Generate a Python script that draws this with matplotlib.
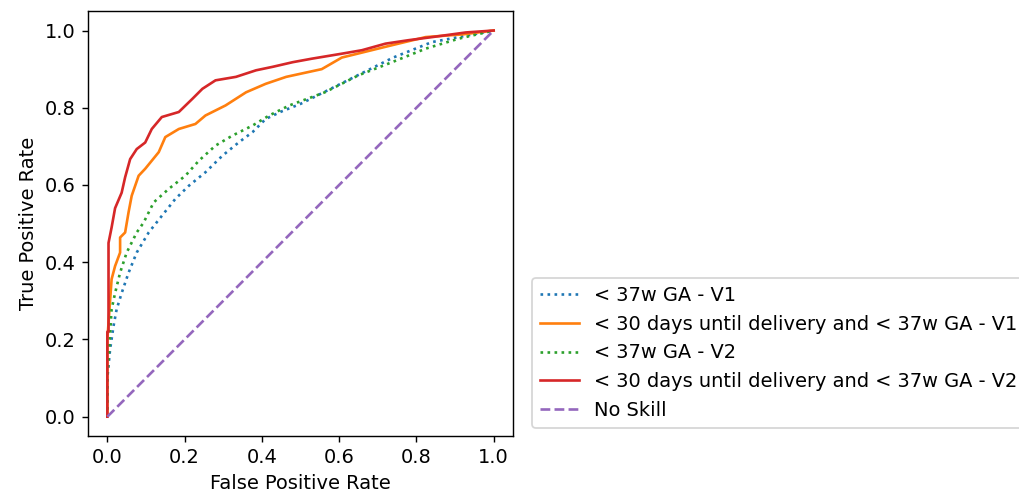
import matplotlib
matplotlib.use('Agg')
import matplotlib.pyplot as plt

# ROC curve points
fpr_37w_v1 = [0, 0.0, 0.007, 0.016, 0.024, 0.037, 0.055, 0.076, 0.107, 0.141, 0.176, 0.211, 0.254,
              0.298, 0.341, 0.376, 0.41, 0.45, 0.5, 0.56, 0.65, 0.74, 0.84, 0.92, 1.0]
tpr_37w_v1 = [0, 0.10, 0.174, 0.235, 0.278, 0.32, 0.373, 0.425, 0.477, 0.52, 0.564, 0.598, 0.633,
              0.676, 0.711, 0.737, 0.771, 0.79, 0.81, 0.84, 0.885, 0.93, 0.97, 0.985, 1.0]

fpr_30d_v1 = [0, 0, 0.007, 0.011, 0.02, 0.033, 0.033, 0.046, 0.055, 0.063, 0.081, 0.098, 0.133, 0.15,
              0.185, 0.228, 0.254, 0.306, 0.359, 0.41, 0.463, 0.555, 0.607, 0.737, 0.824, 0.92, 1.0]
tpr_30d_v1 = [0, 0.2, 0.30, 0.356, 0.39, 0.425, 0.464, 0.477, 0.53, 0.572, 0.624, 0.642, 0.685, 0.724,
              0.745, 0.758, 0.78, 0.806, 0.84, 0.862, 0.88, 0.90, 0.93, 0.962, 0.983, 0.99, 1.0]

fpr_37w_v2 = [0, 0, 0.003, 0.011, 0.02, 0.033, 0.05, 0.076, 0.094, 0.12, 0.159, 0.202, 0.237, 0.28,
              0.324, 0.376, 0.419, 0.471, 0.563, 0.65, 0.737, 0.824, 0.91, 1.0]
tpr_37w_v2 = [0, 0.10, 0.148, 0.278, 0.32, 0.373, 0.425, 0.477, 0.503, 0.555, 0.59, 0.624, 0.663, 0.702,
              0.728, 0.754, 0.78, 0.806, 0.84, 0.884, 0.918, 0.953, 0.979, 1.0]

fpr_30d_v2 = [0, 0, 0.0, 0.003, 0.003, 0.011, 0.02, 0.037, 0.046, 0.059, 0.076, 0.098, 0.115, 0.141,
              0.185, 0.22, 0.246, 0.28, 0.333, 0.385, 0.428, 0.48, 0.529, 0.607, 0.659, 0.72, 0.78,
              0.841, 0.928, 1.0]
tpr_30d_v2 = [0, 0.1, 0.22, 0.22, 0.45, 0.49, 0.54, 0.58, 0.62, 0.667, 0.693, 0.71, 0.745, 0.776,
              0.789, 0.823, 0.849, 0.871, 0.88, 0.897, 0.906, 0.918, 0.927, 0.94, 0.949, 0.966, 0.975,
              0.983, 0.995, 1.0]

no_skill = [0, 1]

plt.rcParams['font.size'] = 11

fig = plt.figure(figsize=(1019 / 127, 498 / 127), dpi=127)
ax = fig.add_axes([0.0864, 0.1245, 0.417, 0.853])

ax.plot(fpr_37w_v1, tpr_37w_v1, linestyle=':', color='tab:blue', label='< 37w GA - V1')
ax.plot(fpr_30d_v1, tpr_30d_v1, linestyle='-', color='tab:orange',
        label='< 30 days until delivery and < 37w GA - V1')
ax.plot(fpr_37w_v2, tpr_37w_v2, linestyle=':', color='tab:green', label='< 37w GA - V2')
ax.plot(fpr_30d_v2, tpr_30d_v2, linestyle='-', color='tab:red',
        label='< 30 days until delivery and < 37w GA - V2')
ax.plot(no_skill, no_skill, linestyle='--', color='tab:purple', label='No Skill')

ax.set_xlabel('False Positive Rate')
ax.set_ylabel('True Positive Rate')
ax.legend(loc='lower left', bbox_to_anchor=(1.045, 0.02), borderaxespad=0)

fig.savefig('out.png', dpi=127)
